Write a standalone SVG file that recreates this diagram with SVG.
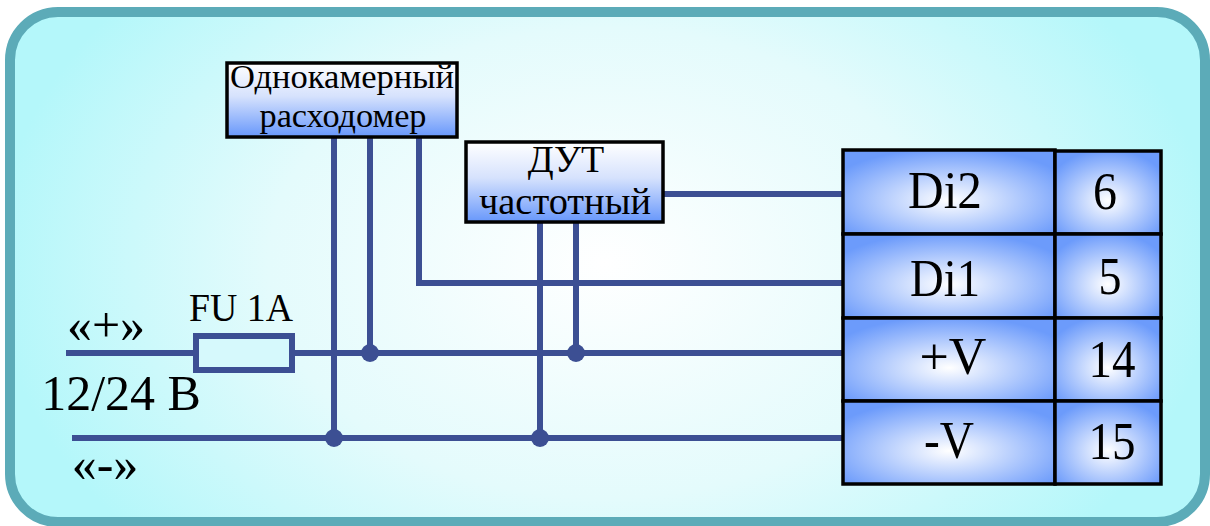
<svg xmlns="http://www.w3.org/2000/svg" width="1210" height="526" viewBox="0 0 1210 526">
<defs>
<radialGradient id="bg" gradientUnits="userSpaceOnUse" cx="605" cy="263" r="610" gradientTransform="translate(0 79) scale(1 .7)"><stop offset="0" stop-color="#ffffff"/><stop offset=".55" stop-color="#e4fbfc"/><stop offset="1" stop-color="#b4f7fa"/></radialGradient>
<linearGradient id="box" x1="0" y1="0" x2="0" y2="1"><stop offset="0" stop-color="#ffffff"/><stop offset=".45" stop-color="#d6e2fd"/><stop offset="1" stop-color="#6797fb"/></linearGradient>
<radialGradient id="cell" cx=".5" cy=".6" r=".62"><stop offset="0" stop-color="#ffffff"/><stop offset="1" stop-color="#6c9bfb"/></radialGradient>
<style>
.t{font-family:"Liberation Serif","Times New Roman",serif;fill:#000;text-anchor:middle}
.w{fill:none;stroke:#3c4f93;stroke-width:6}
.d{fill:#3c4f93}
.b{fill:url(#box);stroke:#000;stroke-width:3.5}
.c{fill:url(#cell);stroke:#000;stroke-width:3.5}
.n{font-size:52px}
</style>
</defs>
<g id="panel"><rect x="10" y="12" width="1195" height="510" rx="48" fill="url(#bg)" stroke="#5cabb8" stroke-width="10"/></g>
<g id="connectors">
<path class="w" d="M66 353H193M294 353H843M72 438H843M334 138V438M370 138V353M419 138V283H843M540 223V438M576 223V353M663 194H843"/>
<circle class="d" cx="370" cy="353" r="9"/><circle class="d" cx="576" cy="353" r="9"/><circle class="d" cx="334" cy="438" r="9"/><circle class="d" cx="540" cy="438" r="9"/>
</g>
<g id="flowmeter"><rect class="b" x="227" y="63" width="230" height="74"/><text class="t" x="342" y="88" font-size="34" textLength="224" lengthAdjust="spacingAndGlyphs">Однокамерный</text><text class="t" x="343" y="127" font-size="34" textLength="167" lengthAdjust="spacingAndGlyphs">расходомер</text></g>
<g id="dut"><rect class="b" x="466" y="142" width="197" height="80"/><text class="t" x="566" y="172" font-size="38">ДУТ</text><text class="t" x="565" y="214" font-size="38" textLength="172" lengthAdjust="spacingAndGlyphs">частотный</text></g>
<g id="fuse"><rect x="196" y="336" width="96" height="34" fill="#d6f9fc" stroke="#3c4f93" stroke-width="6"/><text class="t" x="241" y="321" font-size="40" textLength="104" lengthAdjust="spacingAndGlyphs">FU 1A</text></g>
<g id="supply">
<text class="t" x="106" y="342" font-size="50">«+»</text>
<text class="t" x="121" y="410" font-size="50">12/24 В</text>
<text class="t" x="105" y="481" font-size="50">«-»</text>
</g>
<g id="di2"><rect class="c" x="843" y="150" width="212" height="84"/><text class="t n" x="945" y="208" textLength="74" lengthAdjust="spacingAndGlyphs">Di2</text></g>
<g id="pin6"><rect class="c" x="1055" y="151" width="106" height="83"/><text class="t n" x="1105" y="209" textLength="24" lengthAdjust="spacingAndGlyphs">6</text></g>
<g id="di1"><rect class="c" x="843" y="234" width="212" height="84"/><text class="t n" x="945" y="296" textLength="70" lengthAdjust="spacingAndGlyphs">Di1</text></g>
<g id="pin5"><rect class="c" x="1055" y="234" width="106" height="84"/><text class="t n" x="1110" y="294" textLength="23" lengthAdjust="spacingAndGlyphs">5</text></g>
<g id="vplus"><rect class="c" x="843" y="318" width="212" height="83"/><text class="t n" x="953" y="374">+V</text></g>
<g id="pin14"><rect class="c" x="1055" y="318" width="106" height="83"/><text class="t n" x="1112" y="377" textLength="47" lengthAdjust="spacingAndGlyphs">14</text></g>
<g id="vminus"><rect class="c" x="843" y="401" width="212" height="83"/><text class="t n" x="949" y="458" textLength="50" lengthAdjust="spacingAndGlyphs">-V</text></g>
<g id="pin15"><rect class="c" x="1055" y="401" width="106" height="83"/><text class="t n" x="1112" y="459" textLength="47" lengthAdjust="spacingAndGlyphs">15</text></g>
</svg>
